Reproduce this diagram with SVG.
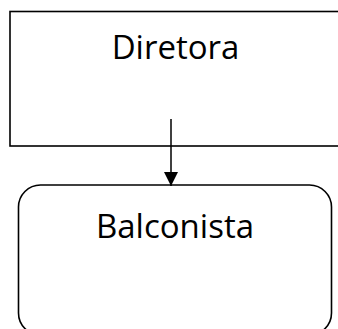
<svg xmlns="http://www.w3.org/2000/svg" width="338" height="329" viewBox="0 0 338 329">
<style>
.box{fill:#fff;stroke:#000;stroke-width:1.6}
.lbl{font-family:"Open Sans","Liberation Sans",sans-serif;font-size:33px;fill:#000;text-anchor:middle}
.edge{stroke:#000;stroke-width:1.5;fill:none}
</style>
<defs>
<marker id="ah" markerWidth="14" markerHeight="14" refX="14" refY="7" orient="auto" markerUnits="userSpaceOnUse" viewBox="0 0 14 14">
<path d="M0,0 L14,7 L0,14 Z" fill="#000"/>
</marker>
</defs>
<rect width="338" height="329" fill="#fff"/>
<g id="diretora">
<rect class="box" x="10" y="11.5" width="340" height="134.5"/>
<text class="lbl" x="175.5" y="59">Diretora</text>
</g>
<g id="balconista">
<rect class="box" x="18.5" y="185" width="313" height="150" rx="22" ry="22"/>
<text class="lbl" x="175" y="238">Balconista</text>
</g>
<g id="connectors">
<line class="edge" x1="171" y1="119" x2="171" y2="186" marker-end="url(#ah)"/>
</g>
</svg>
